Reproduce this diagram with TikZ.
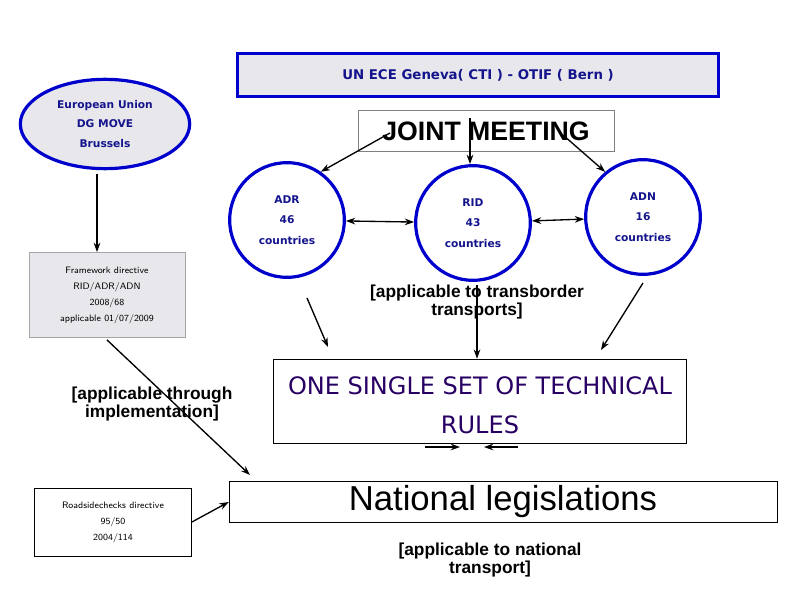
\documentclass[tikz,border=0pt]{standalone}
\usepackage{fontspec}
\setmainfont{Liberation Sans}
\newfontfamily\comic{DejaVu Sans}
\usetikzlibrary{arrows.meta,shapes.geometric}
\definecolor{orgblue}{RGB}{0,0,205}
\definecolor{orgtext}{RGB}{20,20,140}
\definecolor{rulestext}{RGB}{40,0,100}
\definecolor{boxgray}{RGB}{232,232,236}
\tikzset{
  org/.style={draw=orgblue, line width=2.4pt, fill=boxgray, font=\comic\bfseries\footnotesize, text=orgtext, align=center},
  country/.style={circle, draw=orgblue, line width=2.4pt, minimum size=86pt, font=\comic\bfseries\footnotesize, text=orgtext, align=center},
  directive/.style={draw=gray!70, fill=boxgray, font=\sffamily\scriptsize, align=center},
  remark/.style={font=\bfseries\fontsize{13}{11}\selectfont, align=center},
  link/.style={-{Stealth[length=7pt, width=5pt]}, line width=1pt}
}
\begin{document}
\begin{tikzpicture}[x=0.75pt, y=-0.75pt]
\useasboundingbox (0,0) rectangle (794,595);
% organisations
\node[org, minimum width=361pt, minimum height=32pt, font=\comic\bfseries\normalsize] (unece) at (478,75) {UN ECE Geneva( CTI ) - OTIF ( Bern )};
\node[org, ellipse, minimum width=127pt, minimum height=67pt, inner sep=0pt] (eu) at (105,124) {European Union\\[5pt]DG MOVE\\[5pt]Brussels};
\node[draw=gray, minimum width=192pt, minimum height=31pt, font=\bfseries\fontsize{20}{20}\selectfont] (jm) at (486,131) {JOINT MEETING};
% the three agreements
\node[country] (adr) at (287,220) {ADR\\[6pt]46\\[6pt]countries};
\node[country] (rid) at (473,223) {RID\\[6pt]43\\[6pt]countries};
\node[country] (adn) at (643,217) {ADN\\[6pt]16\\[6pt]countries};
\coordinate (jma) at (390,133);
\coordinate (jmb) at (470,118);
\coordinate (jmc) at (563,135);
\draw[link] (jma) -- (adr.55);
\draw[link] (jmb) -- (jmb |- rid.north);
\draw[link] (jmc) -- (adn.130);
\draw[link, {Stealth[length=7pt, width=5pt]}-{Stealth[length=7pt, width=5pt]}] (adr) -- (rid);
\draw[link, {Stealth[length=7pt, width=5pt]}-{Stealth[length=7pt, width=5pt]}] (rid) -- (adn);
% directives
\node[directive, minimum width=117pt, minimum height=64pt] (frame) at (107,295) {Framework directive\\[4pt]RID/ADR/ADN\\[4pt]2008/68\\[4pt]applicable 01/07/2009};
\draw[link] (eu.south) ++(-8,4) coordinate (eus) -- (eus |- frame.north);
\node[remark] (transborder) at (477,302) {[applicable to transborder\\transports]};
% technical rules
\node[draw, minimum width=310pt, minimum height=63pt] (rules) at (480,401) {};
\node[font=\comic\fontsize{18}{18}\selectfont, text=rulestext] (rulesa) at (480,386) {ONE SINGLE SET OF TECHNICAL};
\node[font=\comic\fontsize{18}{18}\selectfont, text=rulestext] (rulesb) at (480,425) {RULES};
\coordinate (adrout) at (307,298);
\coordinate (ridout) at (477,285);
\coordinate (adnout) at (643,283);
\draw[link] (adrout) -- (328,347);
\draw[link] (ridout) -- (rules.north -| ridout);
\draw[link] (adnout) -- (601,350);
\coordinate (ra) at (425,447);
\coordinate (rb) at (518,447);
\draw[link] (ra) -- (460,447);
\draw[link] (rb) -- (484,447);
% national level
\node[remark] (implement) at (152,404) {[applicable through\\implementation]};
\node[draw, fill=white, minimum width=411pt, minimum height=31pt, font=\fontsize{26}{26}\selectfont] (national) at (503,502) {National legislations};
\node[directive, fill=white, draw=black, minimum width=118pt, minimum height=51pt] (roadside) at (113,522) {Roadsidechecks directive\\[4pt]95/50\\[4pt]2004/114};
\draw[link] (frame.south) ++(0,2) -- (250,475);
\draw[link] (roadside.east) -- (national.west);
\node[remark] (nattransport) at (490,560) {[applicable to national\\transport]};
\end{tikzpicture}
\end{document}
